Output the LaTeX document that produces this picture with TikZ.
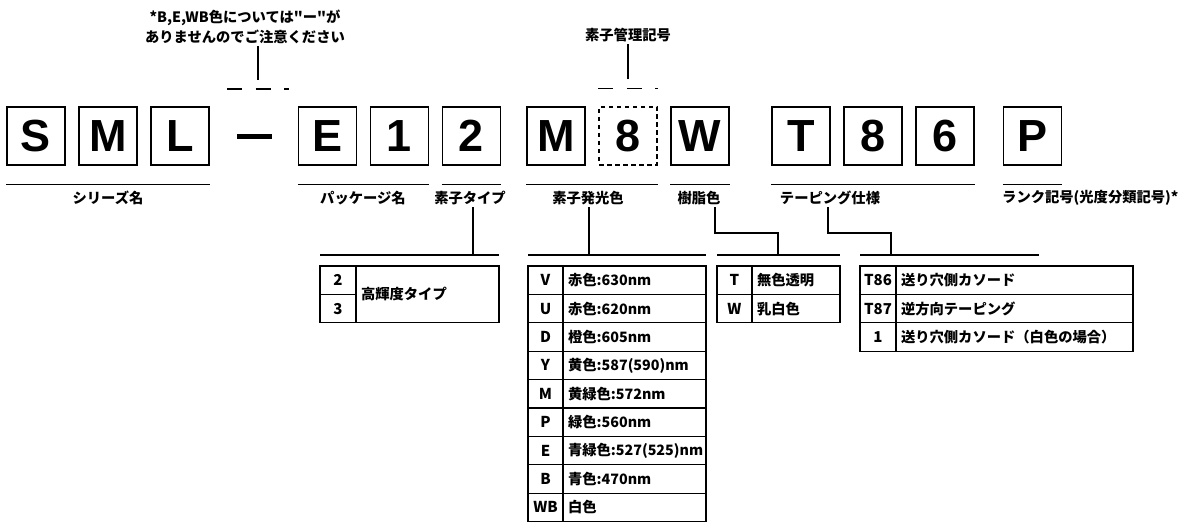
\documentclass[tikz,border=0pt]{standalone}
\usepackage{fontspec}
\setmainfont{Liberation Sans}
\newfontfamily\jpfont{Noto Sans CJK JP}
\usetikzlibrary{positioning}
\tikzset{
    charbox/.style = {rectangle, draw=black, line width=1.4pt, minimum width=58pt, minimum height=58pt, inner sep=0pt, font=\fontsize{45}{45}\selectfont\bfseries},
    markbox/.style = {charbox, dash pattern=on 4.5pt off 3.5pt},
    partlabel/.style = {inner sep=2pt, font=\jpfont\bfseries\fontsize{14.3}{19.5}\selectfont},
    keycell/.style = {rectangle, draw=black, line width=1.2pt, outer sep=0pt, inner sep=0pt, minimum width=36pt, minimum height=28.4pt, font=\jpfont\bfseries\fontsize{15}{16}\selectfont},
    valcell/.style = {keycell, inner xsep=5pt, text width=#1, align=left, font=\jpfont\bfseries\fontsize{14.3}{16}\selectfont},
    underline/.style = {line width=1.3pt},
    link/.style = {line width=1.2pt},
    slot/.style = {line width=1.3pt, dash pattern=on 15pt off 13.5pt}
}
\begin{document}
\begin{tikzpicture}[x=1pt, y=-1pt, node distance=72pt]
\useasboundingbox (0,0) rectangle (1195,524);

% part number boxes
\node (s) [charbox] at (36,136) {S};
\node (m) [charbox, right of=s] {M};
\node (l) [charbox, right of=m] {L};
\node (hyphen) [inner sep=0pt] at (254.5,137) {\rule{35pt}{5pt}};
\node (e) [charbox] at (327.5,136) {E};
\node (one) [charbox, right of=e] {1};
\node (two) [charbox, right of=one] {2};
\node (mm) [charbox] at (556,136) {M};
\node (eight) [markbox, right of=mm] {8};
\node (w) [charbox, right of=eight] {W};
\node (t) [charbox] at (801,136) {T};
\node (eightb) [charbox, right of=t] {8};
\node (six) [charbox, right of=eightb] {6};
\node (p) [charbox] at (1032.5,136) {P};

% notes above
\node (note) [partlabel, align=center] at (245,27) {*B,E,WB色については"ー"が\\ありませんのでご注意ください};
\node (mgmt) [partlabel] at (628,35) {素子管理記号};
\coordinate (gap) at (258,89);
\draw [slot] ([xshift=-31pt]gap) -- ([xshift=31pt]gap);
\draw [link] ([yshift=9pt]gap) -- (gap |- note.south);
\draw [slot] ([yshift=18pt]eight.north west) -- ([yshift=18pt]eight.north east);
\draw [link] ([yshift=27pt]eight.north) -- (eight.north |- mgmt.south);

% underlines and names
\draw [underline] ([yshift=-19pt]s.south west) -- ([yshift=-19pt]l.south east);
\draw [underline] ([yshift=-19pt]e.south west) -- ([yshift=-19pt]one.south east);
\draw [underline] ([yshift=-19pt]two.south west) -- ([yshift=-19pt]two.south east);
\draw [underline] ([yshift=-19pt]mm.south west) -- ([yshift=-19pt]eight.south east);
\draw [underline] ([yshift=-19pt]w.south west) -- ([yshift=-19pt]w.south east);
\draw [underline] ([yshift=-19pt]t.south west) -- ([yshift=-19pt]six.south east);
\draw [underline] ([yshift=-19pt]p.south west) -- ([yshift=-19pt]p.south east);
\node (series) [partlabel] at (108,198) {シリーズ名};
\node (package) [partlabel] at (363,198) {パッケージ名};
\node (chiptype) [partlabel] at (470,198) {素子タイプ};
\node (emit) [partlabel] at (588,198) {素子発光色};
\node (resin) [partlabel] at (699,198) {樹脂色};
\node (taping) [partlabel] at (830,198) {テーピング仕様};
\node (rank) [partlabel, anchor=west] at (1000,198) {ランク記号(光度分類記号)*};

% chip type table
\node (two-k) [keycell, anchor=north west] at (320,266) {2};
\node (three-k) [keycell, below=0pt of two-k] {3};
\node (high) [valcell=133pt, minimum height=56.8pt, anchor=north west] at (two-k.north east) {高輝度タイプ};

% emitting colour table
\node (v-k) [keycell, minimum width=35pt, anchor=north west] at (528,266) {V};
\node (v-v) [valcell=133pt, right=0pt of v-k] {赤色:630nm};
\node (u-k) [keycell, minimum width=35pt, below=0pt of v-k] {U};
\node (u-v) [valcell=133pt, right=0pt of u-k] {赤色:620nm};
\node (d-k) [keycell, minimum width=35pt, below=0pt of u-k] {D};
\node (d-v) [valcell=133pt, right=0pt of d-k] {橙色:605nm};
\node (y-k) [keycell, minimum width=35pt, below=0pt of d-k] {Y};
\node (y-v) [valcell=133pt, right=0pt of y-k] {黄色:587(590)nm};
\node (m-k) [keycell, minimum width=35pt, below=0pt of y-k] {M};
\node (m-v) [valcell=133pt, right=0pt of m-k] {黄緑色:572nm};
\node (p-k) [keycell, minimum width=35pt, below=0pt of m-k] {P};
\node (p-v) [valcell=133pt, right=0pt of p-k] {緑色:560nm};
\node (e-k) [keycell, minimum width=35pt, below=0pt of p-k] {E};
\node (e-v) [valcell=133pt, right=0pt of e-k] {青緑色:527(525)nm};
\node (b-k) [keycell, minimum width=35pt, below=0pt of e-k] {B};
\node (b-v) [valcell=133pt, right=0pt of b-k] {青色:470nm};
\node (wb-k) [keycell, minimum width=35pt, below=0pt of b-k] {WB};
\node (wb-v) [valcell=133pt, right=0pt of wb-k] {白色};

% resin colour table
\node (t-k) [keycell, minimum width=35pt, anchor=north west] at (717,266) {T};
\node (t-v) [valcell=78pt, right=0pt of t-k] {無色透明};
\node (w-k) [keycell, minimum width=35pt, below=0pt of t-k] {W};
\node (w-v) [valcell=78pt, right=0pt of w-k] {乳白色};

% taping table
\node (t86-k) [keycell, anchor=north west] at (860,266) {T86};
\node (t86-v) [valcell=227pt, right=0pt of t86-k] {送り穴側カソード};
\node (t87-k) [keycell, below=0pt of t86-k] {T87};
\node (t87-v) [valcell=227pt, right=0pt of t87-k] {逆方向テーピング};
\node (w1-k) [keycell, below=0pt of t87-k] {1};
\node (w1-v) [valcell=227pt, right=0pt of w1-k] {送り穴側カソード（白色の場合）};

% connectors to tables
\coordinate (head1) at (473,255);
\coordinate (head2) at (589,255);
\coordinate (head3) at (778,255);
\coordinate (head4) at (891,255);
\draw [link] ([yshift=11pt]two-k.north west) -- ([yshift=11pt]high.north east);
\draw [link] (chiptype.south -| head1) -- (head1);
\draw [link] ([yshift=11pt]v-k.north west) -- ([yshift=11pt]v-v.north east);
\draw [link] (emit.south -| head2) -- (head2);
\draw [link] ([yshift=11pt]t-k.north west) -- ([yshift=11pt]t-v.north east);
\draw [link] ([xshift=16pt]resin.south) |- ([yshift=22pt]head3) -- (head3);
\draw [link] ([yshift=11pt]t86-k.north west) -- ++(179,0);
\draw [link] ([xshift=-2pt]taping.south) |- ([yshift=22pt]head4) -- (head4);
\end{tikzpicture}
\end{document}
